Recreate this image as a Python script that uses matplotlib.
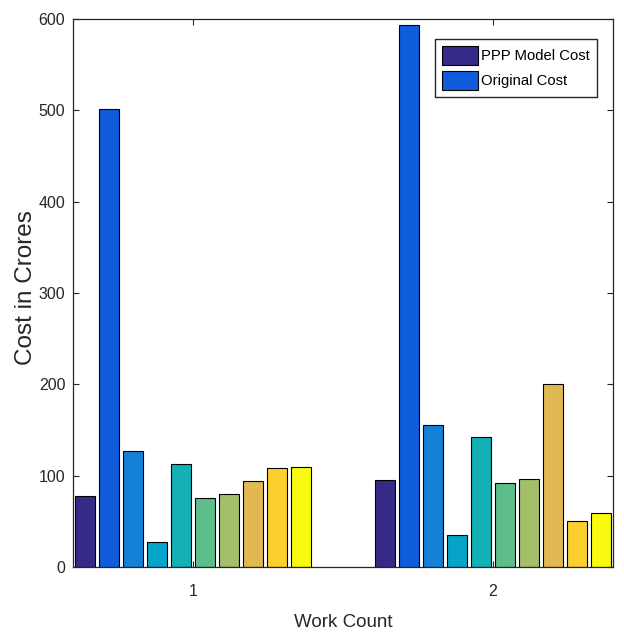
import numpy as np
import matplotlib
matplotlib.use("Agg")
import matplotlib.pyplot as plt

plt.rcParams['font.family'] = ['Liberation Sans', 'DejaVu Sans']

work_counts = [1, 2]
work_1 = [78, 501, 127, 28, 113, 76, 80, 94, 109, 110]
work_2 = [95, 593, 156, 35, 142, 92, 97, 200, 51, 59]
legend_names = ["PPP Model Cost", "Original Cost"]

# parula-like colours, one per series
colors = ["#352a87", "#0f5cdd", "#1481d6", "#06a4ca", "#13b0b5",
          "#5dbd8b", "#a5be6b", "#e1b952", "#fcce2e", "#f9fb0e"]

fig = plt.figure(figsize=(6.24, 6.33), dpi=100)
ax = fig.add_axes([0.117, 0.104, 0.865, 0.866])

n = len(work_1)
pitch = 0.08
width = 0.065
x = np.array(work_counts, dtype=float)
for i in range(n):
    offset = (i - (n - 1) / 2) * pitch
    label = legend_names[i] if i < len(legend_names) else None
    ax.bar(x + offset, [work_1[i], work_2[i]], width=width,
           color=colors[i], edgecolor="black", linewidth=0.8, label=label)

ax.set_xlim(0.6, 2.4)
ax.set_ylim(0, 600)
ax.set_xticks(work_counts)
ax.set_yticks(range(0, 601, 100))
ax.tick_params(direction="in", top=True, right=True, labelsize=11.5,
               colors="#262626", length=4)
ax.tick_params(axis="x", pad=12)
ax.tick_params(axis="y", pad=5.5)
for s in ax.spines.values():
    s.set_color("#262626")
    s.set_linewidth(0.9)

ax.set_xlabel("Work Count", fontsize=13.5, color="#262626")
ax.set_ylabel("Cost in Crores", fontsize=17.5, color="#262626")
ax.xaxis.set_label_coords(0.5, -0.085)
ax.yaxis.set_label_coords(-0.066, 0.51)

ax.legend(loc="upper right", bbox_to_anchor=(0.970, 0.9635), borderaxespad=0,
          fontsize=10.7, fancybox=False, edgecolor="#262626", framealpha=1,
          handlelength=2.42, handleheight=1.64, handletextpad=0.2,
          borderpad=0.45, labelspacing=0.37)

fig.savefig("out.png", dpi=100)
